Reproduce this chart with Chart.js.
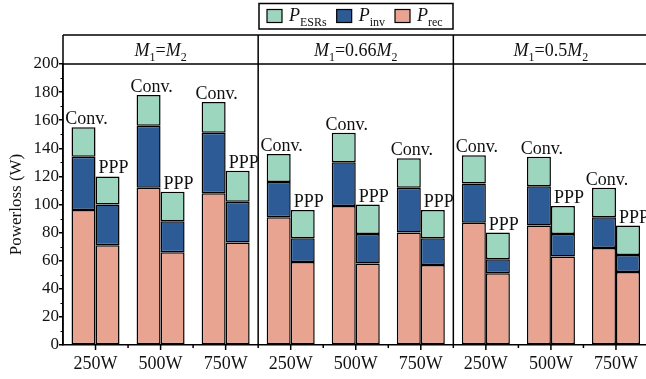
<!DOCTYPE html>
<html lang="en">

<head>
    <meta charset="UTF-8">
    <title>Powerloss</title>
    <script src="https://cdn.jsdelivr.net/npm/chart.js"></script>
    <style>
        body { margin: 0; background: #fff; overflow: hidden; }
        #wrap { width: 646px; height: 379px; overflow: hidden; }
    </style>
</head>

<body>
    <div id="wrap">
        <canvas id="loss-chart" width="650" height="379"></canvas>
    </div>

    <script>
        // categories (3 panels x 3 power levels)
        var powers = ['250W', '500W', '750W', '250W', '500W', '750W', '250W', '500W', '750W'];

        // conventional converter
        var convRec = [96, 112, 108, 91, 99, 80, 87, 85, 69];
        var convInv = [38, 44, 43, 25, 31, 32, 28, 28, 22];
        var convEsr = [21, 22, 22, 20, 21, 21, 20, 21, 21];

        // PPP converter
        var pppRec = [71, 66, 73, 59, 58, 57, 51, 63, 52];
        var pppInv = [29, 22, 29, 17, 21, 19, 10, 16, 12];
        var pppEsr = [20, 21, 22, 20, 21, 20, 19, 20, 21];

        var yTicks = [0, 20, 40, 60, 80, 100, 120, 140, 160, 180, 200];

        var colEsr = '#9dd6bf';
        var colInv = '#2d5b96';
        var colRec = '#e9a491';
        var serif = '"Liberation Serif", "Times New Roman", serif';

        // panel header text, split into runs for italic and subscripts
        var panelTitles = [
            [{ t: 'M', i: true }, { t: '1', sub: true }, { t: '=' }, { t: 'M', i: true }, { t: '2', sub: true }],
            [{ t: 'M', i: true }, { t: '1', sub: true }, { t: '=0.66' }, { t: 'M', i: true }, { t: '2', sub: true }],
            [{ t: 'M', i: true }, { t: '1', sub: true }, { t: '=0.5' }, { t: 'M', i: true }, { t: '2', sub: true }]
        ];

        function runFont(r, size) {
            if (r.sub) return Math.round(size * 0.65) + 'px ' + serif;
            return (r.i ? 'italic ' : '') + size + 'px ' + serif;
        }

        function drawRuns(ctx, runs, x, y, size, center) {
            var total = 0;
            runs.forEach(function (r) {
                ctx.font = runFont(r, size);
                r.w = ctx.measureText(r.t).width;
                total += r.w;
            });
            if (center) x = x - total / 2;
            ctx.textAlign = 'left';
            ctx.textBaseline = 'alphabetic';
            runs.forEach(function (r) {
                ctx.font = runFont(r, size);
                ctx.fillText(r.t, x, r.sub ? y + size * 0.25 : y);
                x += r.w;
            });
            return x;
        }

        // frame, panel headers, minor ticks, bar labels and legend
        var decorations = {
            id: 'decorations',
            afterDatasetsDraw: function (chart) {
                var ctx = chart.ctx;
                var area = chart.chartArea;
                var xs = chart.scales.x;
                var ys = chart.scales.y;
                var headTop = 35;
                var groupW = (area.right - area.left) / powers.length;

                ctx.save();
                ctx.strokeStyle = '#000';
                ctx.fillStyle = '#000';
                ctx.lineWidth = 1.5;

                // frame and panel dividers
                ctx.beginPath();
                ctx.moveTo(area.left, headTop);
                ctx.lineTo(area.right, headTop);
                ctx.moveTo(area.left, area.top);
                ctx.lineTo(area.right, area.top);
                ctx.moveTo(area.right, headTop);
                ctx.lineTo(area.right, area.bottom);
                for (var p = 1; p < 3; p++) {
                    var dx = area.left + groupW * 3 * p;
                    ctx.moveTo(dx, headTop);
                    ctx.lineTo(dx, area.bottom);
                }
                ctx.moveTo(area.left, headTop);
                ctx.lineTo(area.left, area.bottom);
                ctx.stroke();

                // panel titles
                ctx.fillStyle = '#111';
                for (var k = 0; k < 3; k++) {
                    var cx = area.left + groupW * (3 * k + 1.5);
                    drawRuns(ctx, panelTitles[k], cx, 56, 18, true);
                }

                // minor y ticks
                ctx.lineWidth = 1;
                ctx.beginPath();
                for (var v = 10; v < 200; v += 20) {
                    var ty = Math.round(ys.getPixelForValue(v)) + 0.5;
                    ctx.moveTo(area.left - 2.5, ty);
                    ctx.lineTo(area.left, ty);
                }
                ctx.stroke();

                // x ticks: long at group centres, short between groups
                ctx.lineWidth = 1.5;
                ctx.beginPath();
                for (var g = 0; g < powers.length; g++) {
                    var gx = xs.getPixelForValue(g);
                    ctx.moveTo(gx, area.bottom);
                    ctx.lineTo(gx, area.bottom + 5);
                    var bx = area.left + groupW * (g + 1);
                    if (g < powers.length - 1) {
                        ctx.moveTo(bx, area.bottom);
                        ctx.lineTo(bx, area.bottom + 3);
                    }
                }
                ctx.stroke();

                // Conv. / PPP labels on top of each stack
                ctx.font = '18px ' + serif;
                ctx.textAlign = 'center';
                ctx.textBaseline = 'alphabetic';
                chart.getDatasetMeta(2).data.forEach(function (bar) {
                    ctx.fillText('Conv.', bar.x + 3, bar.y - 3);
                });
                chart.getDatasetMeta(5).data.forEach(function (bar) {
                    ctx.fillText('PPP', bar.x + 6, bar.y - 3);
                });

                // legend
                ctx.lineWidth = 1.5;
                ctx.strokeRect(259, 3.5, 194, 25.5);
                var items = [
                    { c: colEsr, runs: [{ t: 'P', i: true }, { t: 'ESRs', sub: true }] },
                    { c: colInv, runs: [{ t: 'P', i: true }, { t: 'inv', sub: true }] },
                    { c: colRec, runs: [{ t: 'P', i: true }, { t: 'rec', sub: true }] }
                ];
                var lx = 267;
                items.forEach(function (it) {
                    ctx.fillStyle = it.c;
                    ctx.fillRect(lx, 9.5, 15, 13);
                    ctx.lineWidth = 1.2;
                    ctx.strokeRect(lx, 9.5, 15, 13);
                    ctx.fillStyle = '#111';
                    var end = drawRuns(ctx, it.runs, lx + 22, 21, 18, false);
                    lx = end + 10;
                });

                ctx.restore();
            }
        };

        function barSet(label, data, color, stack) {
            return {
                label: label,
                data: data,
                stack: stack,
                backgroundColor: color,
                borderColor: '#000',
                borderWidth: 1.5,
                borderSkipped: false,
                categoryPercentage: 0.738,
                barPercentage: 1
            };
        }

        var ctx = document.getElementById('loss-chart').getContext('2d');
        var lossChart = new Chart(ctx, {
            type: 'bar',
            data: {
                labels: powers,
                datasets: [
                    barSet('Conv. Prec', convRec, colRec, 'conv'),
                    barSet('Conv. Pinv', convInv, colInv, 'conv'),
                    barSet('Conv. PESRs', convEsr, colEsr, 'conv'),
                    barSet('PPP Prec', pppRec, colRec, 'ppp'),
                    barSet('PPP Pinv', pppInv, colInv, 'ppp'),
                    barSet('PPP PESRs', pppEsr, colEsr, 'ppp')
                ]
            },
            options: {
                responsive: false,
                animation: false,
                layout: { padding: { top: 64, right: 1.5, left: 0, bottom: 0 } },
                plugins: {
                    legend: { display: false },
                    tooltip: { enabled: false }
                },
                scales: {
                    x: {
                        stacked: true,
                        grid: { display: false, drawTicks: false },
                        border: { display: true, color: '#000', width: 1.5 },
                        ticks: {
                            color: '#111',
                            padding: 8,
                            maxRotation: 0,
                            autoSkip: false,
                            font: { family: serif, size: 18 }
                        },
                        afterFit: function (scale) { scale.height = 34; }
                    },
                    y: {
                        stacked: true,
                        min: 0,
                        max: 200,
                        afterBuildTicks: function (scale) {
                            scale.ticks = yTicks.map(function (v) { return { value: v }; });
                        },
                        grid: {
                            drawOnChartArea: false,
                            drawTicks: true,
                            tickLength: 4,
                            color: '#000',
                            lineWidth: 1.5
                        },
                        border: { display: true, color: '#000', width: 1.5 },
                        ticks: {
                            color: '#111',
                            padding: 0,
                            font: { family: serif, size: 17 }
                        },
                        title: {
                            display: true,
                            text: 'Powerloss (W)',
                            color: '#111',
                            padding: { top: 6, bottom: 0 },
                            font: { family: serif, size: 17 }
                        },
                        afterFit: function (scale) { scale.width = 63; }
                    }
                }
            },
            plugins: [decorations]
        });
    </script>
</body>

</html>
